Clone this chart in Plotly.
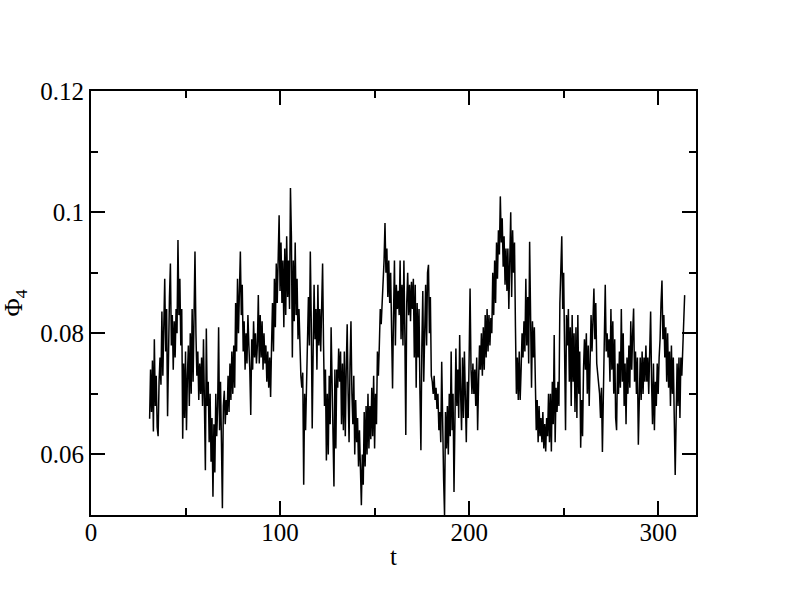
import plotly.graph_objects as go

seg_a_start = 31.0   # t = 31.0 .. 100.0
seg_a = [
    65.9, 74.0, 67.0, 75.5, 63.8, 79.0, 68.0, 73.0, 64.5, 63.0,
    72.0, 76.0, 71.5, 83.6, 73.0, 80.0, 89.0, 77.0, 84.0, 66.3,
    80.0, 86.0, 91.5, 78.0, 83.0, 74.0, 82.0, 76.0, 84.0, 80.0,
    95.4, 83.0, 89.0, 78.0, 84.0, 62.6, 75.0, 66.0, 77.0, 64.0,
    73.0, 78.0, 68.0, 80.0, 70.0, 84.0, 72.0, 85.0, 93.5, 80.0,
    73.0, 77.0, 69.0, 75.0, 70.0, 76.0, 68.0, 79.0, 70.0, 57.4,
    80.8, 68.0, 72.0, 62.0, 70.0, 58.8, 66.0, 53.0, 65.0, 57.0,
    70.0, 63.0, 68.0, 81.0, 64.0, 72.0, 62.0, 51.1, 68.0, 70.5,
    65.0, 69.0, 66.5, 73.0, 67.0, 75.0, 69.0, 77.0, 70.0, 78.0,
    71.0, 85.0, 77.0, 89.0, 80.0, 85.0, 93.5, 83.0, 88.0, 77.0,
    82.0, 74.0, 80.0, 75.0, 83.0, 78.0, 74.0, 66.5, 79.0, 74.0,
    82.0, 76.0, 80.0, 75.0, 78.0, 86.3, 75.0, 83.0, 76.0, 82.0,
    74.0, 80.0, 75.0, 78.0, 72.0, 77.0, 71.0, 76.0, 69.5, 78.0,
    85.0, 77.0, 89.0, 81.0, 91.5, 85.0, 92.5, 99.5, 87.0,
]
seg_b_start = 100.5  # t = 100.5 .. 171.5
seg_b = [
    95.0, 85.0, 92.0, 81.0, 94.0, 83.0, 96.0, 86.0, 92.0, 84.0,
    104.0, 96.0, 76.0, 92.0, 82.0, 95.0, 83.0, 89.0, 79.0, 84.0,
    76.0, 73.0, 71.0, 73.5, 55.0, 70.0, 64.0, 73.0, 79.0, 86.0,
    78.0, 93.5, 82.0, 64.3, 77.0, 88.0, 79.0, 84.0, 74.0, 88.0,
    78.0, 84.0, 77.0, 87.0, 91.5, 78.0, 68.0, 74.0, 59.0, 70.0,
    60.0, 73.0, 65.0, 81.0, 70.0, 60.0, 54.7, 74.0, 61.0, 74.0,
    71.0, 77.5, 72.0, 77.0, 65.0, 75.0, 64.0, 77.0, 63.0, 74.0,
    81.5, 70.0, 62.0, 75.0, 82.0, 70.0, 65.0, 73.0, 60.0, 69.0,
    62.0, 66.0, 58.0, 64.0, 56.0, 51.6, 60.0, 55.0, 67.0, 58.0,
    68.0, 60.0, 70.0, 61.0, 68.0, 62.5, 71.0, 63.0, 73.0, 61.0,
    70.0, 65.0, 77.0, 73.0, 78.0, 84.0, 81.5, 85.0, 88.0, 92.0,
    98.2, 90.0, 94.0, 86.0, 92.0, 85.0, 90.0, 79.0, 70.9, 83.0,
    92.0, 78.0, 88.0, 84.0, 87.0, 83.0, 92.0, 79.0, 88.0, 78.0,
    92.0, 80.0, 63.2, 85.0, 90.0, 83.0, 88.0, 82.0, 88.5, 84.0,
    89.0, 76.0, 88.0,
]
seg_c_start = 172.0  # t = 172.0 .. 242.5
seg_c = [
    71.0, 85.0, 76.0, 84.0, 70.0, 60.7, 78.0, 87.0, 72.0, 80.0,
    88.0, 78.0, 90.0, 91.3, 80.0, 86.0, 73.0, 72.0, 70.0, 73.0,
    69.0, 71.0, 67.5, 70.0, 64.0, 67.0, 62.0, 75.3, 62.0, 56.0,
    50.0, 67.0, 61.0, 68.0, 60.0, 70.0, 63.0, 77.0, 64.0, 70.0,
    53.8, 66.0, 77.5, 68.0, 74.0, 66.0, 79.7, 70.0, 64.0, 76.0,
    66.0, 77.0, 68.0, 62.0, 72.0, 66.0, 76.0, 87.4, 74.0, 70.0,
    75.0, 70.0, 74.0, 68.0, 76.0, 64.0, 72.0, 78.0, 74.0, 80.0,
    73.0, 81.0, 74.0, 83.0, 76.0, 84.0, 77.0, 83.0, 78.0, 82.5,
    80.0, 90.0, 83.0, 92.0, 85.0, 95.0, 89.0, 97.0, 93.0, 102.6,
    95.0, 99.0, 91.0, 96.0, 88.0, 94.0, 87.0, 94.0, 84.0, 92.0,
    100.0, 86.0, 97.0, 90.0, 95.0, 81.0, 70.0, 76.0, 69.0, 77.0,
    69.0, 74.0, 80.0, 76.0, 82.0, 77.0, 89.0, 78.0, 86.0, 75.0,
    95.1, 83.0, 71.0, 82.0, 76.0, 81.0, 68.0, 64.0, 69.0, 62.0,
    68.0, 63.0, 66.0, 62.0, 67.0, 61.0, 65.0, 60.5, 66.0, 63.0,
    70.0, 62.0,
]
seg_d_start = 243.0  # t = 243.0 .. 314.0
seg_d = [
    70.0, 60.5, 72.0, 65.0, 79.7, 62.0, 71.0, 67.0, 72.0, 68.0,
    85.0, 89.0, 96.0, 84.0, 90.0, 77.0, 64.0, 83.0, 78.0, 84.0,
    72.0, 81.0, 68.0, 83.0, 72.0, 80.0, 67.0, 81.0, 66.0, 83.0,
    70.0, 77.0, 61.1, 69.0, 63.0, 74.0, 79.0, 74.0, 80.0, 70.0,
    78.0, 68.0, 74.0, 83.0, 77.0, 85.0, 87.4, 79.0, 85.0, 75.0,
    73.0, 72.0, 70.0, 66.0, 71.0, 60.4, 72.0, 80.0, 88.0, 77.0,
    80.0, 76.0, 79.0, 72.0, 84.0, 74.0, 82.0, 70.0, 79.0, 66.0,
    64.0, 75.0, 70.0, 77.0, 71.0, 84.0, 72.0, 80.0, 68.0, 75.0,
    65.0, 76.0, 70.0, 78.0, 71.0, 82.0, 74.0, 80.0, 84.1, 72.0,
    77.0, 70.0, 76.0, 61.6, 72.0, 76.0, 69.0, 77.0, 70.0, 76.0,
    72.0, 78.0, 72.0, 76.0, 70.0, 75.0, 83.6, 72.0, 65.0, 75.0,
    64.0, 72.0, 68.0, 75.0, 70.0, 76.0, 79.0, 85.0, 88.7, 79.0,
    83.0, 76.0, 81.0, 72.0, 80.0, 71.0, 77.0, 68.0, 78.0, 70.0,
    76.0, 66.0, 56.6, 66.0, 75.0, 68.0, 76.0, 66.0, 76.0, 73.0,
    77.0, 80.0, 86.3,
]
t_step = 0.5

t = []
phi4 = []
for start, seg in [(seg_a_start, seg_a), (seg_b_start, seg_b),
                   (seg_c_start, seg_c), (seg_d_start, seg_d)]:
    t += [start + t_step * i for i in range(len(seg))]
    phi4 += [v / 1000.0 for v in seg]

x_ticks = [0, 100, 200, 300]
y_ticks = [0.06, 0.08, 0.1, 0.12]
y_tick_labels = ["0.06", "0.08", "0.1", "0.12"]

font_family = "Liberation Serif, Times New Roman, serif"

fig = go.Figure()
fig.add_trace(go.Scatter(x=t, y=phi4, mode="lines",
                         line=dict(color="black", width=1.5),
                         showlegend=False))

axis_common = dict(
    showgrid=False, zeroline=False, showline=True, linecolor="black",
    linewidth=2, mirror="allticks", ticks="inside", ticklen=14,
    tickwidth=2, tickcolor="black",
    tickfont=dict(family=font_family, size=25, color="black"),
)

fig.update_xaxes(range=[0, 320], tickvals=x_ticks,
                 minor=dict(dtick=50, tick0=0, ticklen=7, tickwidth=2,
                            tickcolor="black", ticks="inside"),
                 ticklabelstandoff=-6,
                 title=dict(text="t", font=dict(family=font_family, size=25, color="black"),
                            standoff=2),
                 **axis_common)
fig.update_yaxes(range=[0.05, 0.12], tickvals=y_ticks, ticktext=y_tick_labels,
                 minor=dict(dtick=0.01, tick0=0.05, ticklen=7, tickwidth=2,
                            tickcolor="black", ticks="inside"),
                 title=dict(text="Φ<sub>4</sub>", font=dict(family=font_family, size=25, color="black"),
                            standoff=12),
                 **axis_common)

fig.update_layout(
    width=792, height=606,
    margin=dict(l=91, r=96, t=91, b=91),
    paper_bgcolor="white", plot_bgcolor="white",
    font=dict(family=font_family, size=25, color="black"),
)

fig.write_html("out.html", config={"displayModeBar": False},
               post_script="document.body.style.margin='0';")
